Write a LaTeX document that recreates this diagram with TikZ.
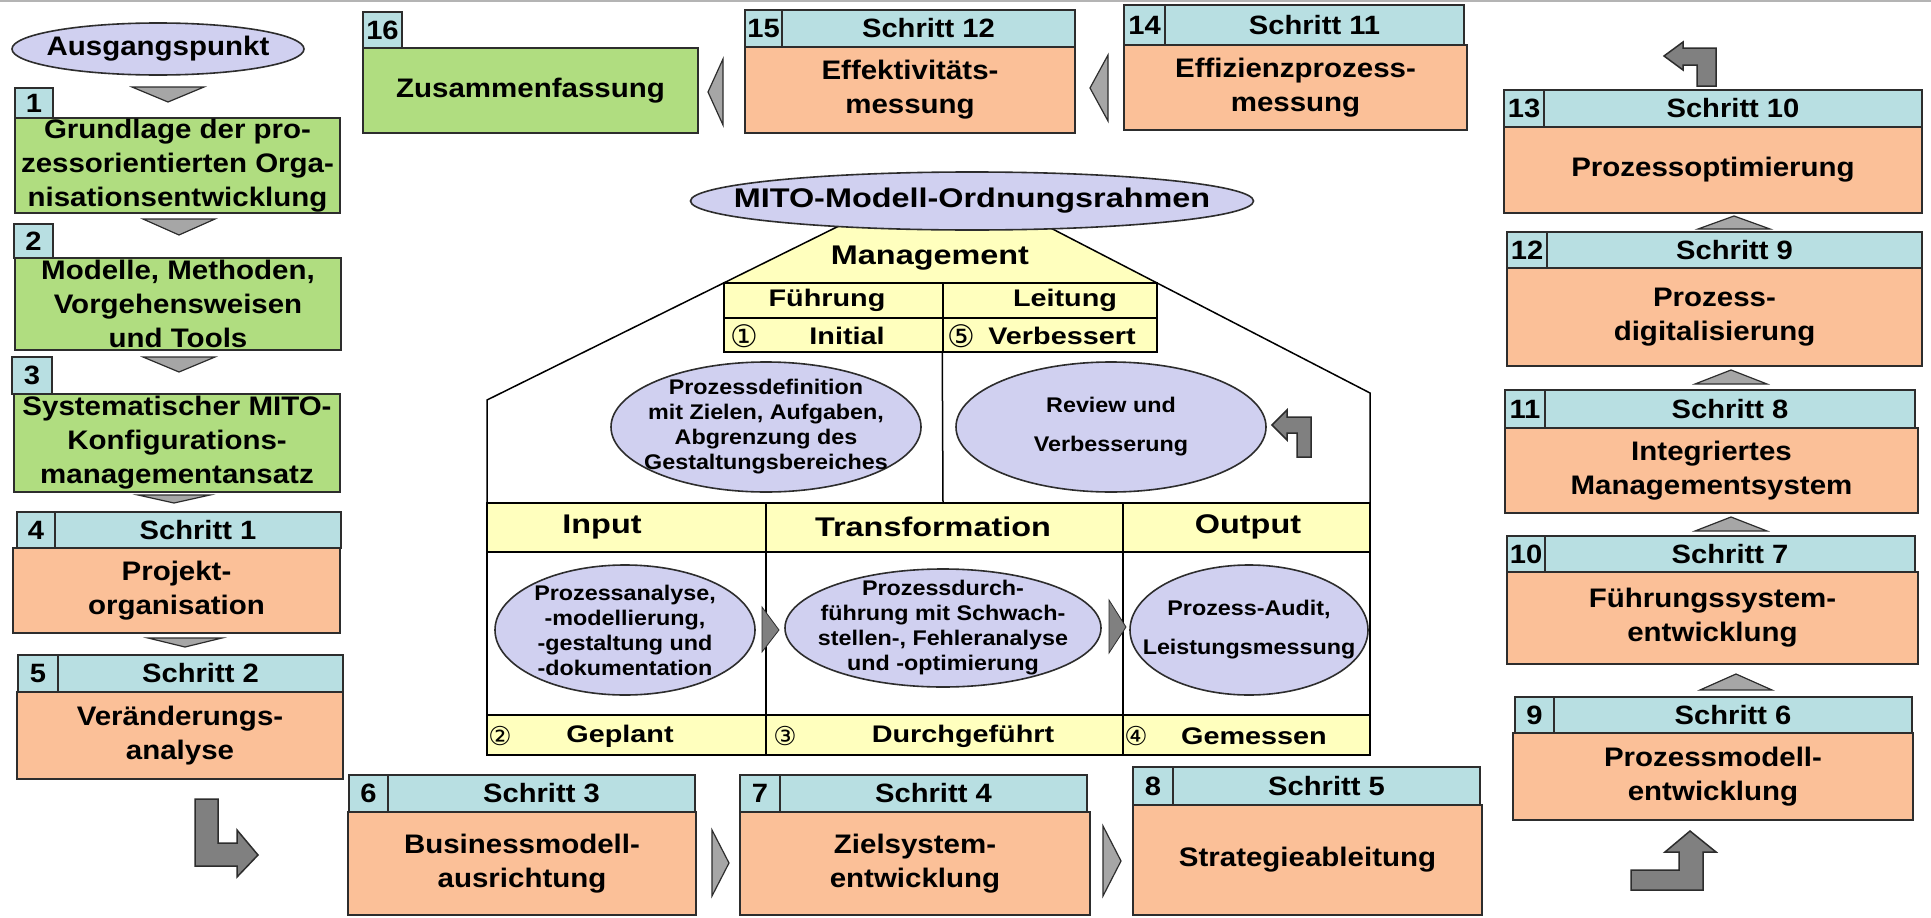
\documentclass[tikz,border=0pt]{standalone}
\usepackage{fontspec}
\setmainfont{Liberation Sans}[FakeStretch=1.1]
\newfontfamily\widesans{Liberation Sans}[FakeStretch=1.2]
\newfontfamily\circfont{DejaVu Sans}
\usetikzlibrary{shapes.geometric}

\definecolor{boxgreen}{RGB}{176,221,128}
\definecolor{boxorange}{RGB}{251,192,152}
\definecolor{tabcyan}{RGB}{184,223,226}
\definecolor{paleyellow}{RGB}{255,255,190}
\definecolor{lavender}{RGB}{208,208,240}
\definecolor{edgegray}{RGB}{45,45,45}
\definecolor{trigray}{RGB}{166,166,166}
\definecolor{arrowgray}{RGB}{128,128,128}
\definecolor{topgray}{RGB}{180,180,180}

\newcommand\bxfont{\fontsize{26.8}{34}\bfseries}
\newcommand\hdfont{\fontsize{26.5}{30}\bfseries}
\newcommand\elfont{\fontsize{21.2}{25}\bfseries}
\newcommand\elwidefont{\fontsize{21.2}{39}\bfseries}
\newcommand\cenfont{\widesans\fontsize{27}{30}\bfseries}
\newcommand\censmall{\widesans\fontsize{24}{28}\bfseries}
\newcommand\circsym{\circfont\fontsize{31}{32}\selectfont}
\newcommand\circsmall{\circfont\fontsize{26}{28}\selectfont}

\tikzset{
  boxbase/.style={rectangle, draw=edgegray, line width=2.2pt, inner sep=0pt, align=center},
  greenbody/.style={boxbase, fill=boxgreen, font=\bxfont},
  orangebody/.style={boxbase, fill=boxorange, font=\bxfont},
  tabcell/.style={boxbase, fill=tabcyan, font=\hdfont},
  ycell/.style={rectangle, draw=black, line width=1.5pt, fill=paleyellow, inner sep=0pt},
  wcell/.style={rectangle, draw=black, line width=1.5pt, fill=white, inner sep=0pt},
  lavell/.style={ellipse, draw=edgegray, line width=1.6pt, fill=lavender, inner sep=0pt},
  tri/.style={draw=edgegray, fill=trigray, line width=1.2pt, line join=miter},
  blockarrow/.style={draw=edgegray, fill=arrowgray, line width=1.5pt, line join=miter},
  roofline/.style={draw=black, line width=1.5pt},
  lbl/.style={inner sep=0pt, align=center},
}

% rectangular node from its corners: name, style, x1, y1, x2, y2, text
\newcommand\rectnode[7]{\node[#2, minimum width={(#5)-(#3)}, minimum height={(#6)-(#4)}] (#1) at ({((#3)+(#5))/2},{((#4)+(#6))/2}) {#7};}
% ellipse with its text set on top: name, cx, cy, width, height, font, text
\newcommand\ellnode[7]{\node[lavell, minimum width=#4, minimum height=#5] (#1) at (#2,#3) {};
  \node[lbl, font=#6] (#1-text) at (#1.center) {#7};}
% vertical triangle: centre x, base y, tip y, half width
\newcommand\vtri[4]{\draw[tri] ({(#1)-(#4)},#2) -- ({(#1)+(#4)},#2) -- (#1,#3) -- cycle;}
% horizontal triangle: centre y, base x, tip x, half height
\newcommand\htri[4]{\draw[tri] (#2,{(#1)-(#4)}) -- (#2,{(#1)+(#4)}) -- (#3,#1) -- cycle;}

\begin{document}
\begin{tikzpicture}[x=1pt,y=-1pt]
\useasboundingbox (0,0) rectangle (1931,918);
\fill[white] (0,0) rectangle (1931,918);
\draw[topgray, line width=2pt] (0,1) -- (1931,1);

% ---------- left column ----------
\ellnode{start}{158}{49}{292}{52}{\bxfont}{Ausgangspunkt}
\vtri{168}{87}{102}{36}
\rectnode{b1}{greenbody}{15}{118}{340}{213}{Grundlage der pro-\\zessorientierten Orga-\\nisationsentwicklung}
\rectnode{b1n}{tabcell}{15}{88}{53}{118}{1}
\vtri{179}{219}{235}{36}
\rectnode{b2}{greenbody}{15}{258}{341}{350}{Modelle, Methoden,\\Vorgehensweisen\\und Tools}
\rectnode{b2n}{tabcell}{14}{224}{53}{258}{2}
\vtri{179}{357}{372}{36}
\rectnode{b3}{greenbody}{14}{394}{340}{492}{Systematischer MITO-\\Konfigurations-\\managementansatz}
\rectnode{b3n}{tabcell}{12}{357}{52}{394}{3}
\vtri{174}{495}{503}{36}
\rectnode{b4}{orangebody}{13}{548}{340}{633}{Projekt-\\organisation}
\rectnode{b4n}{tabcell}{17}{512}{55}{548}{4}
\rectnode{b4h}{tabcell}{55}{512}{341}{548}{Schritt 1}
\vtri{185}{638}{647}{37}
\rectnode{b5}{orangebody}{17}{692}{343}{779}{Veränderungs-\\analyse}
\rectnode{b5n}{tabcell}{18}{655}{58}{692}{5}
\rectnode{b5h}{tabcell}{58}{655}{343}{692}{Schritt 2}
\draw[blockarrow] (195,799) -- (218,799) -- (218,843) -- (237,843) -- (237,830) -- (258,855)
  -- (237,877) -- (237,866) -- (195,866) -- cycle;

% ---------- bottom row ----------
\rectnode{b6}{orangebody}{348}{812}{696}{915}{Businessmodell-\\ausrichtung}
\rectnode{b6n}{tabcell}{349}{775}{388}{812}{6}
\rectnode{b6h}{tabcell}{388}{775}{695}{812}{Schritt 3}
\htri{863}{712}{729}{33}
\rectnode{b7}{orangebody}{740}{812}{1090}{915}{Zielsystem-\\entwicklung}
\rectnode{b7n}{tabcell}{740}{775}{780}{812}{7}
\rectnode{b7h}{tabcell}{780}{775}{1087}{812}{Schritt 4}
\htri{861}{1103}{1121}{35}
\rectnode{b8}{orangebody}{1133}{805}{1482}{915}{Strategieableitung}
\rectnode{b8n}{tabcell}{1133}{767}{1173}{805}{8}
\rectnode{b8h}{tabcell}{1173}{767}{1480}{805}{Schritt 5}

% ---------- right column ----------
\draw[blockarrow] (1631,870) -- (1679,870) -- (1679,852) -- (1665,852) -- (1690,831) -- (1716,852)
  -- (1703,852) -- (1703,890) -- (1631,890) -- cycle;
\rectnode{b9}{orangebody}{1513}{733}{1913}{820}{Prozessmodell-\\entwicklung}
\rectnode{b9n}{tabcell}{1515}{697}{1554}{733}{9}
\rectnode{b9h}{tabcell}{1554}{697}{1912}{733}{Schritt 6}
\vtri{1736}{690}{674}{36}
\rectnode{b10}{orangebody}{1507}{572}{1918}{664}{Führungssystem-\\entwicklung}
\rectnode{b10n}{tabcell}{1507}{536}{1545}{572}{10}
\rectnode{b10h}{tabcell}{1545}{536}{1915}{572}{Schritt 7}
\vtri{1731}{531}{517}{36}
\rectnode{b11}{orangebody}{1505}{428}{1918}{513}{Integriertes\\Managementsystem}
\rectnode{b11n}{tabcell}{1505}{390}{1545}{428}{11}
\rectnode{b11h}{tabcell}{1545}{390}{1915}{428}{Schritt 8}
\vtri{1731}{384}{370}{36}
\rectnode{b12}{orangebody}{1507}{268}{1922}{366}{Prozess-\\digitalisierung}
\rectnode{b12n}{tabcell}{1507}{232}{1547}{268}{12}
\rectnode{b12h}{tabcell}{1547}{232}{1922}{268}{Schritt 9}
\vtri{1734}{229}{216}{36}
\rectnode{b13}{orangebody}{1504}{127}{1922}{213}{Prozessoptimierung}
\rectnode{b13n}{tabcell}{1504}{90}{1544}{127}{13}
\rectnode{b13h}{tabcell}{1544}{90}{1922}{127}{Schritt 10}
\draw[blockarrow] (1697,86) -- (1716,86) -- (1716,48) -- (1683,48) -- (1683,42) -- (1664,56)
  -- (1683,70) -- (1683,65) -- (1697,65) -- cycle;

% ---------- top row ----------
\rectnode{b14}{orangebody}{1124}{45}{1467}{130}{Effizienzprozess-\\messung}
\rectnode{b14n}{tabcell}{1124}{5}{1165}{45}{14}
\rectnode{b14h}{tabcell}{1165}{5}{1464}{45}{Schritt 11}
\htri{88}{1108}{1090}{33}
\rectnode{b15}{orangebody}{745}{47}{1075}{133}{Effektivitäts-\\messung}
\rectnode{b15n}{tabcell}{745}{10}{782}{47}{15}
\rectnode{b15h}{tabcell}{782}{10}{1075}{47}{Schritt 12}
\htri{92}{723}{708}{33}
\rectnode{b16}{greenbody}{363}{48}{698}{133}{Zusammenfassung}
\rectnode{b16n}{tabcell}{363}{12}{402}{48}{16}

% ---------- MITO framework ----------
\fill[paleyellow] (847,222) -- (1039,222) -- (1157,283) -- (724,283) -- cycle;
\draw[roofline] (847,222) -- (487,400) -- (487,755);
\draw[roofline] (1039,222) -- (1370,393) -- (1370,755);
\ellnode{mito}{972}{201}{563}{58}{\cenfont}{MITO-Modell-Ordnungsrahmen}
\node[lbl, font=\cenfont] (mgmt) at (930,258) {Management};

\rectnode{fuehr}{ycell}{724}{283}{943}{318}{}
\rectnode{leit}{ycell}{943}{283}{1157}{318}{}
\rectnode{initc}{ycell}{724}{318}{943}{352}{}
\rectnode{verbc}{ycell}{943}{318}{1157}{352}{}
\node[lbl, font=\censmall] (fuehr-t) at (827,300) {Führung};
\node[lbl, font=\censmall] (leit-t) at (1065,300) {Leitung};
\node[lbl, font=\circsym] (c1) at (744,336) {①};
\node[lbl, font=\censmall] (init-t) at (847,336) {Initial};
\node[lbl, font=\circsym] (c5) at (961,336) {⑤};
\node[lbl, font=\censmall] (verb-t) at (1062,336) {Verbessert};
\draw[roofline] (verbc.south west) -- (943,503);

\ellnode{edef}{766}{427}{310}{130}{\elfont}{Prozessdefinition\\mit Zielen, Aufgaben,\\Abgrenzung des\\Gestaltungsbereiches}
\ellnode{erev}{1111}{427}{310}{130}{\elwidefont}{Review und\\Verbesserung}
\draw[blockarrow] (1297,457) -- (1311,457) -- (1311,417) -- (1287,417) -- (1287,410) -- (1272,425)
  -- (1287,440) -- (1287,433) -- (1297,433) -- cycle;

% phases
\rectnode{inh}{ycell}{487}{503}{766}{552}{}
\rectnode{trh}{ycell}{766}{503}{1123}{552}{}
\rectnode{outh}{ycell}{1123}{503}{1370}{552}{}
\rectnode{inm}{wcell}{487}{552}{766}{715}{}
\rectnode{trm}{wcell}{766}{552}{1123}{715}{}
\rectnode{outm}{wcell}{1123}{552}{1370}{715}{}
\rectnode{inb}{ycell}{487}{715}{766}{755}{}
\rectnode{trb}{ycell}{766}{715}{1123}{755}{}
\rectnode{outb}{ycell}{1123}{715}{1370}{755}{}
\node[lbl, font=\cenfont] (in-t) at (602,527) {Input};
\node[lbl, font=\cenfont] (tr-t) at (933,527) {Transformation};
\node[lbl, font=\cenfont] (out-t) at (1248,527) {Output};
\node[lbl, font=\circsmall] (c2) at (500,736) {②};
\node[lbl, font=\censmall] (gepl) at (620,736) {Geplant};
\node[lbl, font=\circsmall] (c3) at (785,736) {③};
\node[lbl, font=\censmall] (durch) at (963,736) {Durchgeführt};
\node[lbl, font=\circsmall] (c4) at (1136,736) {④};
\node[lbl, font=\censmall] (gem) at (1254,736) {Gemessen};

\ellnode{ein}{625}{630}{260}{130}{\elfont}{Prozessanalyse,\\-modellierung,\\-gestaltung und\\-dokumentation}
\ellnode{etr}{943}{628}{316}{118}{\elfont}{Prozessdurch-\\führung mit Schwach-\\stellen-, Fehleranalyse\\und -optimierung}
\ellnode{eout}{1249}{630}{238}{130}{\elwidefont}{Prozess-Audit,\\Leistungsmessung}
\draw[blockarrow, line width=0.8pt] (762,607) -- (762,652) -- (779,630) -- cycle;
\draw[blockarrow, line width=0.8pt] (1109,600) -- (1109,653) -- (1126,627) -- cycle;
\end{tikzpicture}
\end{document}
